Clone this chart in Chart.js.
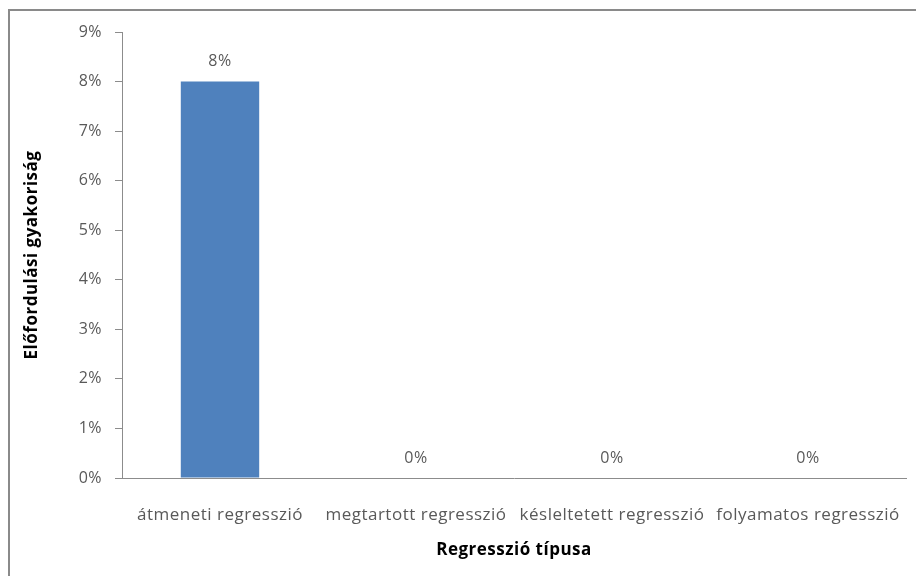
<!DOCTYPE html>
<html>
<head>
<meta charset="utf-8">
<script src="https://cdn.jsdelivr.net/npm/chart.js@4/dist/chart.umd.min.js"></script>
<style>
  html, body { margin: 0; padding: 0; background: #ffffff; }
  #wrap { position: relative; width: 916px; height: 576px; }
</style>
</head>
<body>
<div id="wrap"><canvas id="c" width="916" height="576"></canvas></div>
<script>
// Regression types and how often each occurs (percent)
const categories = ['átmeneti regresszió', 'megtartott regresszió', 'késleltetett regresszió', 'folyamatos regresszió'];
const frequencies = [8, 0, 0, 0];
const yTicks = [0, 1, 2, 3, 4, 5, 6, 7, 8, 9];
const xTitle = 'Regresszió típusa';
const yTitle = 'Előfordulási gyakoriság';

const FONT = '"Open Sans", Lato, "DejaVu Sans", sans-serif';
const AXIS_GREY = '#8c8c8c';
const TEXT_GREY = '#595959';
const SPACING = '0.5px';

// Slightly wider text tracking for all canvas text
const tracking = {
  id: 'tracking',
  beforeUpdate(chart) { chart.ctx.letterSpacing = SPACING; },
  beforeDraw(chart) { chart.ctx.letterSpacing = SPACING; }
};

// Frame around the chart (left and top edges visible)
const framePlugin = {
  id: 'frame',
  beforeDraw(chart) {
    const ctx = chart.ctx;
    ctx.save();
    ctx.fillStyle = '#ffffff';
    ctx.fillRect(0, 0, chart.width, chart.height);
    ctx.strokeStyle = '#8a8a8a';
    ctx.lineWidth = 2;
    ctx.beginPath();
    ctx.moveTo(9, chart.height + 2);
    ctx.lineTo(9, 10);
    ctx.lineTo(chart.width + 2, 10);
    ctx.stroke();
    ctx.restore();
  }
};

// Value labels above each bar
const valueLabels = {
  id: 'valueLabels',
  afterDatasetsDraw(chart) {
    const ctx = chart.ctx;
    const meta = chart.getDatasetMeta(0);
    ctx.save();
    ctx.letterSpacing = SPACING;
    ctx.font = '16px ' + FONT;
    ctx.fillStyle = TEXT_GREY;
    ctx.textAlign = 'center';
    ctx.textBaseline = 'middle';
    meta.data.forEach((bar, i) => {
      ctx.fillText(frequencies[i] + '%', bar.x, bar.y - 20);
    });
    ctx.restore();
  }
};

new Chart(document.getElementById('c'), {
  type: 'bar',
  data: {
    labels: categories,
    datasets: [{
      data: frequencies,
      backgroundColor: '#4f81bd',
      borderWidth: 0,
      barPercentage: 0.4,
      categoryPercentage: 1.0
    }]
  },
  options: {
    responsive: false,
    animation: false,
    devicePixelRatio: 1,
    layout: { padding: { left: 0, right: 10, top: 32, bottom: 0 } },
    plugins: {
      legend: { display: false },
      tooltip: { enabled: false }
    },
    scales: {
      x: {
        grid: { display: true, drawOnChartArea: false, drawTicks: false },
        border: { display: true, color: AXIS_GREY, width: 1 },
        ticks: {
          color: TEXT_GREY,
          font: { family: FONT, size: 17 },
          padding: 27,
          maxRotation: 0,
          autoSkip: false
        },
        title: {
          display: true,
          text: xTitle,
          color: '#000000',
          font: { family: FONT, size: 17, weight: 'bold' },
          padding: { top: 0, bottom: 16 }
        },
        afterFit(scale) {
          scale.height = 98;
          scale.paddingLeft = 0;
          scale.paddingRight = 0;
        }
      },
      y: {
        min: 0,
        max: yTicks[yTicks.length - 1],
        afterBuildTicks(scale) { scale.ticks = yTicks.map(v => ({ value: v })); },
        grid: { display: true, drawOnChartArea: false, drawTicks: true, tickLength: 7, color: AXIS_GREY },
        border: { display: true, color: AXIS_GREY, width: 1 },
        ticks: {
          color: TEXT_GREY,
          font: { family: FONT, size: 16 },
          padding: 13,
          callback: v => v + '%'
        },
        title: {
          display: true,
          text: yTitle,
          color: '#000000',
          font: { family: FONT, size: 17, weight: 'bold' },
          padding: { top: 22, bottom: 0 }
        },
        afterFit(scale) {
          scale.width = 122;
          scale.paddingTop = 0;
          scale.paddingBottom = 0;
        }
      }
    }
  },
  plugins: [tracking, framePlugin, valueLabels]
});
</script>
</body>
</html>
